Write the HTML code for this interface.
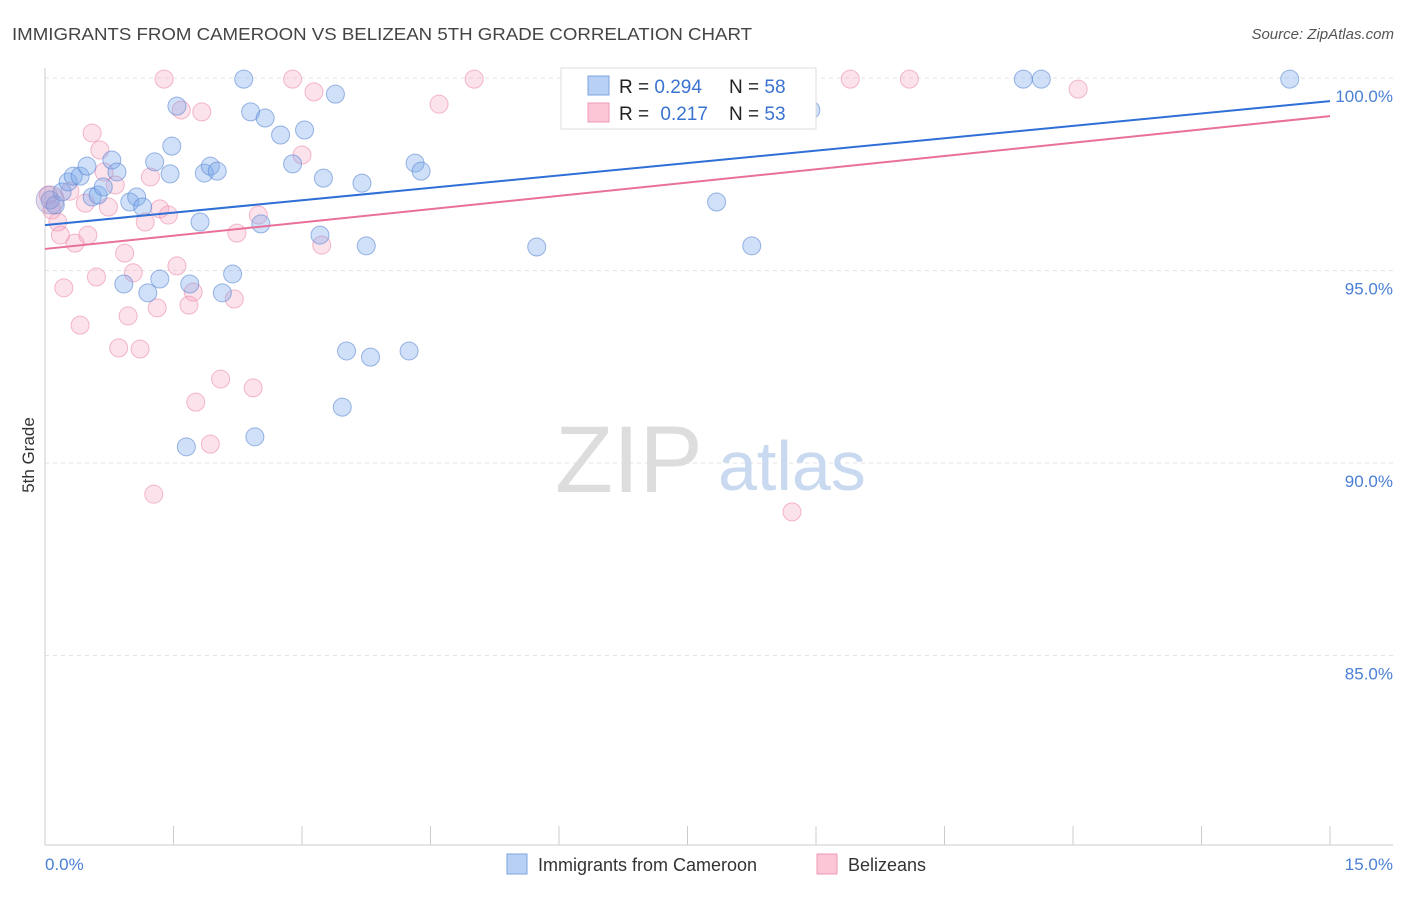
<!DOCTYPE html>
<html><head><meta charset="utf-8"><style>
body{margin:0;background:#fff;font-family:"Liberation Sans",sans-serif;}
svg text{font-family:"Liberation Sans",sans-serif;}
</style></head><body>
<svg id="chart" width="1406" height="892" xmlns="http://www.w3.org/2000/svg">
<text x="12" y="40" font-size="17.5" fill="#444" textLength="740" lengthAdjust="spacingAndGlyphs">IMMIGRANTS FROM CAMEROON VS BELIZEAN 5TH GRADE CORRELATION CHART</text>
<text x="1394" y="39" font-size="15" fill="#555" font-style="italic" text-anchor="end">Source: ZipAtlas.com</text>
<text transform="translate(34,455) rotate(-90)" font-size="17" fill="#333" text-anchor="middle">5th Grade</text>
<g id="grid"></g>
<text x="555" y="492" font-size="95" font-family="Liberation Serif" fill="#ddd">ZIP</text>
<text x="718" y="490" font-size="70" fill="#c9d9ef">atlas</text>
<g id="points"></g>
<g id="trends"></g>
<g>
<rect x="561" y="68" width="255" height="61" fill="#fff" stroke="#ddd"/>
<rect x="588" y="76" width="21" height="19" fill="#b8d0f4" stroke="#7da6e0"/>
<rect x="588" y="103" width="21" height="19" fill="#fcc6d6" stroke="#ef9ab4"/>
<text x="619" y="93" font-size="19" fill="#222">R = <tspan fill="#3b73d1">0.294</tspan></text>
<text x="729" y="93" font-size="19" fill="#222">N = <tspan fill="#3b73d1">58</tspan></text>
<text x="619" y="120" font-size="19" fill="#222">R = <tspan fill="#3b73d1" dx="6">0.217</tspan></text>
<text x="729" y="120" font-size="19" fill="#222">N = <tspan fill="#3b73d1">53</tspan></text>
</g>
<g>
<rect x="507" y="854" width="20" height="20" fill="#b8d0f4" stroke="#7da6e0"/>
<text x="538" y="871" font-size="18" fill="#333">Immigrants from Cameroon</text>
<rect x="817" y="854" width="20" height="20" fill="#fcc6d6" stroke="#ef9ab4"/>
<text x="848" y="871" font-size="18" fill="#333">Belizeans</text>
</g>
</svg>
<script>
const blueX=[0.06,0.12,0.20,0.27,0.33,0.41,0.49,0.55,0.62,0.68,0.78,0.84,0.92,0.99,1.07,1.14,1.20,1.28,1.34,1.46,1.48,1.54,1.65,1.69,1.81,1.86,1.93,2.01,2.07,2.19,2.32,2.40,2.45,2.52,2.57,2.75,2.89,3.03,3.21,3.25,3.39,3.47,3.52,3.70,3.75,3.80,4.25,4.32,4.39,5.74,6.66,7.84,8.25,8.64,8.94,11.42,11.63,14.53];
const blueY=[96.83,96.70,97.04,97.30,97.45,97.45,97.71,96.91,96.96,97.17,97.87,97.56,94.65,96.78,96.91,96.65,94.42,97.82,94.78,97.51,98.23,99.27,90.42,94.65,96.26,97.53,97.71,97.58,94.42,94.91,99.97,99.12,90.68,96.21,98.96,98.52,97.77,98.65,95.92,97.40,99.58,91.45,92.91,97.27,95.64,92.75,92.91,97.79,97.58,95.61,99.97,96.78,95.64,99.90,99.17,99.97,99.97,99.97];
const pinkX=[0.04,0.08,0.15,0.18,0.22,0.29,0.35,0.41,0.47,0.50,0.55,0.60,0.64,0.69,0.74,0.82,0.86,0.93,0.97,1.03,1.11,1.17,1.23,1.27,1.31,1.34,1.39,1.44,1.54,1.59,1.68,1.73,1.76,1.83,1.93,2.05,2.21,2.24,2.43,2.49,2.89,3.00,3.14,3.23,4.60,5.01,8.65,8.72,9.40,10.09,12.06];
const pinkY=[96.96,96.57,96.26,95.92,94.55,97.06,95.71,93.58,96.75,95.92,98.57,94.83,98.13,97.56,96.65,97.22,92.99,95.45,93.82,94.94,92.96,96.26,97.43,89.19,94.03,96.60,99.97,96.44,95.12,99.17,94.10,94.44,91.58,99.12,90.49,92.18,94.26,95.97,91.95,96.44,99.97,98.00,99.64,95.66,99.32,99.97,99.97,88.73,99.97,99.97,99.71];
const blueTrend=[96.18,99.40];
const pinkTrend=[95.56,99.01];
const yTicks=[100,95,90,85];
const yTickLabels=["100.0%","95.0%","90.0%","85.0%"];
const xTicks=[0,1.5,3,4.5,6,7.5,9,10.5,12,13.5,15];
const NS="http://www.w3.org/2000/svg";
const sx=v=>45+v/15*1285;
const sy=v=>78+(100-v)*38.5;
function mk(tag,attrs,parent){const e=document.createElementNS(NS,tag);for(const k in attrs)e.setAttribute(k,attrs[k]);parent.appendChild(e);return e;}
const grid=document.getElementById('grid');
yTicks.forEach((t,i)=>{
 const l=mk('line',{x1:45,x2:1393,y1:sy(t),y2:sy(t),stroke:'#e3e3e3','stroke-dasharray':'4,4'},grid);
 
 
 const tx=mk('text',{x:1393,y:sy(t)+24,'font-size':17,fill:'#4a7fd4','text-anchor':'end'},grid);
 tx.textContent=yTickLabels[i];
 
 
});
const ax=mk('line',{x1:45,x2:45,y1:68,y2:845,stroke:'#ccc'},grid);


const bx=mk('line',{x1:45,x2:1393,y1:845,y2:845,stroke:'#ccc'},grid);


xTicks.forEach(t=>{
 const l=mk('line',{x1:sx(t),x2:sx(t),y1:826,y2:845,stroke:'#ccc'},grid);
 
 
});
const x0=mk('text',{x:45,y:870,'font-size':17,fill:'#4a7fd4'},grid);
x0.textContent=xTicks[0].toFixed(1)+'%';


const x1=mk('text',{x:1393,y:870,'font-size':17,fill:'#4a7fd4','text-anchor':'end'},grid);
x1.textContent=xTicks[xTicks.length-1].toFixed(1)+'%';


const pts=document.getElementById('points');
pinkX.forEach((x,i)=>{
 const c=mk('circle',{cx:sx(x),cy:sy(pinkY[i]),r:9,fill:'rgba(245,160,190,0.3)',stroke:'rgba(235,140,170,0.6)'},pts);
 
 
});
blueX.forEach((x,i)=>{
 const c=mk('circle',{cx:sx(x),cy:sy(blueY[i]),r:9,fill:'rgba(120,165,235,0.35)',stroke:'rgba(90,135,210,0.6)'},pts);
 
 
});
const big=mk('circle',{cx:sx(blueX[0]),cy:sy(blueY[0]),r:14,fill:'rgba(170,150,200,0.35)',stroke:'rgba(150,140,200,0.5)'},pts);


const tr=document.getElementById('trends');
const tb=mk('line',{x1:sx(0),y1:sy(blueTrend[0]),x2:sx(15),y2:sy(blueTrend[1]),stroke:'#2f6fd6','stroke-width':2},tr);


const tp=mk('line',{x1:sx(0),y1:sy(pinkTrend[0]),x2:sx(15),y2:sy(pinkTrend[1]),stroke:'#e8709a','stroke-width':2},tr);


</script>
</body></html>
